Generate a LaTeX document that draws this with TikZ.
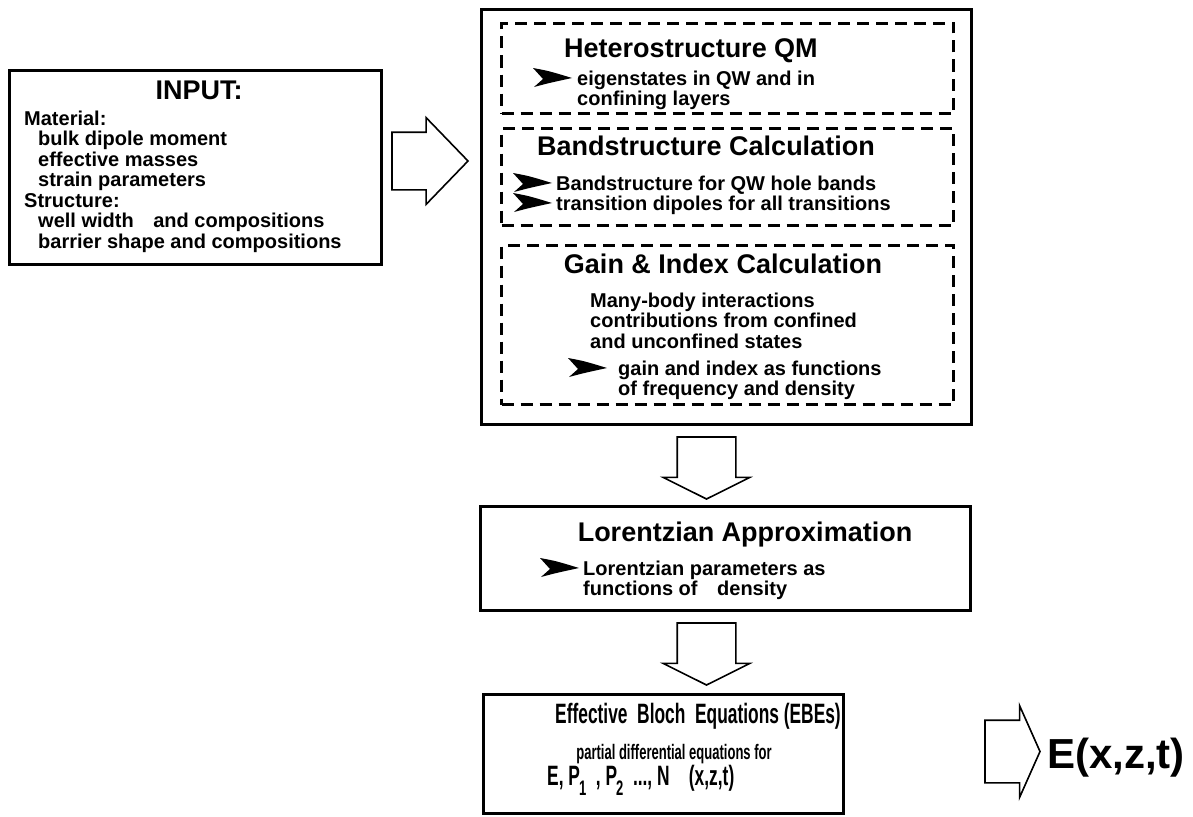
\documentclass[tikz,border=0pt]{standalone}
\usepackage{fontspec}
\setmainfont{Liberation Sans}
\newfontfamily\narrowfont[FakeStretch=0.62]{Liberation Sans}
\usetikzlibrary{shapes.arrows}

\newcommand{\hdfont}{\fontsize{27}{27}\selectfont\bfseries}
\newcommand{\bdfont}{\fontsize{20}{20}\selectfont\bfseries}
\newcommand{\psub}[1]{\kern-1pt\raisebox{-10pt}{\fontsize{21}{21}\selectfont #1}}

\tikzset{
  boxframe/.style={draw, line width=3pt, inner sep=0pt, anchor=north west},
  dashframe/.style={boxframe, dash pattern=on 12pt off 7pt},
  hdtext/.style={font=\hdfont, anchor=base, inner sep=0pt},
  txt/.style={font=\bdfont, anchor=base west, inner sep=0pt},
  blockarrow/.style={single arrow, draw, line width=1.6pt, inner xsep=0pt, inner ysep=28pt,
    outer sep=0pt, anchor=tail, single arrow head extend=14pt},
  pics/chev/.style={code={\fill (0,-10) .. controls (16,-7) .. (39,0) .. controls (16,5) .. (1,9) -- (10,1) -- cycle;}}
}

\begin{document}
\begin{tikzpicture}[x=1pt, y=-1pt]
\useasboundingbox (0,0) rectangle (1193,816);
% input
\node[boxframe, minimum width=372pt, minimum height=194pt] (input) at (8,69) {};
\node[hdtext] (input-t) at (199,99) {INPUT:};
\node[txt] (mat) at (24,125) {Material:};
\foreach \t [count=\i] in {bulk dipole moment, effective masses, strain parameters}
  \node[txt] (mat-\i) at (38,{125+20.5*\i}) {\t};
\node[txt] (struc) at (24,207) {Structure:};
\node[txt] (struc-1) at (38,227.5) {well width\hspace{14pt} and compositions};
\node[txt] (struc-2) at (38,248) {barrier shape and compositions};
\node[blockarrow, minimum height=76pt, single arrow tip angle=92, single arrow head extend=14.5pt] (arr-in) at (392,161) {};

% big box with the three steps
\node[boxframe, minimum width=490pt, minimum height=415pt] (big) at (480,8) {};
\node[dashframe, minimum width=452pt, minimum height=90pt] (qm) at (500,22) {};
\node[dashframe, minimum width=452pt, minimum height=97pt] (band) at (500,127) {};
\node[dashframe, minimum width=452pt, minimum height=159pt] (gain) at (500,244) {};

\node[hdtext] (qm-t) at (691,58) {Heterostructure QM};
\pic at (533,78) {chev};
\node[txt] (qm-1) at (577,85) {eigenstates in QW and in};
\node[txt] (qm-2) at (577,105) {confining layers};

\node[hdtext] (band-t) at (706,155) {Bandstructure Calculation};
\foreach \y in {183,203}
  \pic at (513,\y) {chev};
\node[txt] (band-1) at (556,190) {Bandstructure for QW hole bands};
\node[txt] (band-2) at (556,210) {transition dipoles for all transitions};

\node[hdtext] (gain-t) at (723,273) {Gain \& Index Calculation};
\foreach \t [count=\i] in {Many-body interactions, contributions from confined, and unconfined states}
  \node[txt] (gain-\i) at (590,{286.5+20.5*\i}) {\t};
\pic at (568,368) {chev};
\node[txt] (gain-4) at (618,375) {gain and index as functions};
\node[txt] (gain-5) at (618,395) {of frequency and density};

\node[blockarrow, rotate=-90, minimum height=62pt, inner ysep=28.5pt, single arrow tip angle=127] (arr-1) at (706.5,437) {};

% lorentzian
\node[boxframe, minimum width=490pt, minimum height=104pt] (lor) at (479,505) {};
\node[hdtext] (lor-t) at (745,541) {Lorentzian Approximation};
\pic at (540,568) {chev};
\node[txt] (lor-1) at (583,575) {Lorentzian parameters as};
\node[txt] (lor-2) at (583,595) {functions of\hspace{14pt} density};

\node[blockarrow, rotate=-90, minimum height=62pt, inner ysep=28.5pt, single arrow tip angle=127] (arr-2) at (706.5,623) {};

% EBEs
\node[boxframe, minimum width=360pt, minimum height=119pt] (ebe) at (482,693) {};
\node[anchor=base, inner sep=0pt, font=\narrowfont\bfseries\fontsize{28}{28}\selectfont] (ebe-t) at (698,723)
  {Effective\ \ Bloch\ \ Equations (EBEs)};
\node[anchor=base, inner sep=0pt, font=\narrowfont\bfseries\fontsize{21}{21}\selectfont] (ebe-1) at (674,759)
  {partial differential equations for};
\node[anchor=base west, inner sep=0pt, font=\narrowfont\bfseries\fontsize{28}{28}\selectfont] (ebe-2) at (547,785)
  {E,\ P\psub{1}\ \ ,\ P\psub{2}\ \ ...,\ N\ \ \ \ (x,z,t)};

\node[blockarrow, minimum height=55pt, inner ysep=30.5pt, single arrow head extend=14.5pt,
  single arrow tip angle=132] (arr-out) at (985,751.5) {};
\node[anchor=base west, inner sep=0pt, font=\bfseries\fontsize{42}{42}\selectfont] (field) at (1047,768) {E(x,z,t)};
\end{tikzpicture}
\end{document}
